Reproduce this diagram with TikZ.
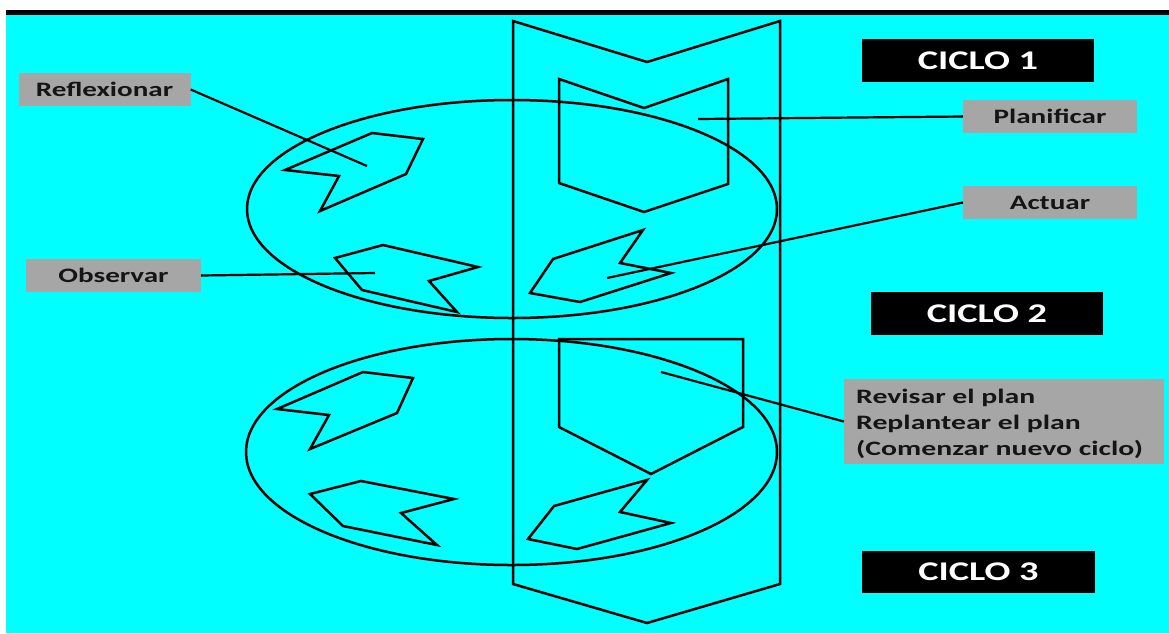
\documentclass[tikz,border=0pt]{standalone}
\usepackage{fontspec}
\setmainfont{Carlito}
\usepackage{graphicx}
\definecolor{cyanbg}{HTML}{00FFFF}
\definecolor{lgray}{HTML}{A6A6A6}
\definecolor{txtd}{HTML}{151515}
\newcommand{\strx}[1]{\scalebox{1.42}[1]{#1}}
\begin{document}
\begin{tikzpicture}[x=1pt,y=-1pt,
  shp/.style={line width=2.5pt, draw=black},
  conn/.style={line width=2.2pt, draw=black},
  lbl/.style={fill=lgray, inner sep=0pt, text=txtd, font=\bfseries\fontsize{20.5}{24}\selectfont},
  ciclo/.style={fill=black, text=white, inner sep=0pt, font=\bfseries\fontsize{27}{30}\selectfont}]
\useasboundingbox (0,0) rectangle (1169,633);
\fill[white] (0,0) rectangle (1169,633);
\fill[cyanbg] (6,15) rectangle (1169,633);
\fill[black] (6,10) rectangle (1169,15);

% big vertical arrow
\draw[shp] (513,21) -- (647,62) -- (780,21) -- (780,584) -- (647,623) -- (513,584) -- cycle;

% ellipses
\draw[shp] (512,209) ellipse [x radius=265, y radius=109];
\draw[shp] (511.5,452) ellipse [x radius=265.5, y radius=113];

% cycle 1 shapes
\draw[shp] (559,79) -- (644,108) -- (728,79) -- (728,184) -- (644,212) -- (559,183) -- cycle;
\draw[shp] (372,133) -- (423,139) -- (406,174) -- (320,211) -- (339,176) -- (285,170) -- cycle;
\draw[shp] (383,245) -- (478,267) -- (429,281) -- (457,312) -- (362,290) -- (335,258) -- cycle;
\draw[shp] (643,230) -- (620,263) -- (671,273) -- (580,302) -- (530,293) -- (553,259) -- cycle;

% cycle 2 shapes
\draw[shp] (559,339) -- (743,339) -- (743,427) -- (651,474) -- (559,427) -- cycle;
\draw[shp] (363,372) -- (413,378) -- (397,413) -- (310,449) -- (329,415) -- (277,409) -- cycle;
\draw[shp] (361,481) -- (454,499) -- (401,513) -- (437,545) -- (343,526) -- (310,494) -- cycle;
\draw[shp] (647,480) -- (620,512) -- (671,523) -- (577,549) -- (528,539) -- (554,506) -- cycle;

% labels
\node[lbl, minimum width=172pt, minimum height=33pt] (refl) at (104.5,89.5) {\strx{Reflexionar}};
\node[lbl, minimum width=175pt, minimum height=33pt] (obs) at (113.5,275.5) {\strx{Observar}};
\node[lbl, minimum width=174pt, minimum height=33pt] (plan) at (1050,116.5) {\strx{Planificar}};
\node[lbl, minimum width=174pt, minimum height=33pt] (act) at (1050,202.5) {\strx{Actuar}};
\node[lbl, minimum width=320pt, minimum height=85pt] (rev) at (1004,421.5) {};
\node[anchor=west, inner sep=0pt, text=txtd, font=\bfseries\fontsize{20.5}{26}\selectfont] (revtxt) at (856,424)
  {\scalebox{1.45}[1]{\begin{tabular}{@{}l@{}}Revisar el plan\\Replantear el plan\\(Comenzar nuevo ciclo)\end{tabular}}};

\node[ciclo, minimum width=232pt, minimum height=43pt] (c1) at (978,60.5) {\strx{CICLO 1}};
\node[ciclo, minimum width=232pt, minimum height=43pt] (c2) at (987,313.5) {\strx{CICLO 2}};
\node[ciclo, minimum width=233pt, minimum height=42pt] (c3) at (978.5,572) {\strx{CICLO 3}};

% connector ends
\coordinate (reflEnd) at (367,166);
\coordinate (obsEnd) at (375,273);
\coordinate (planEnd) at (698,119);
\coordinate (actEnd) at (607,278);
\coordinate (revEnd) at (661,372);

\draw[conn] (refl.east) -- (reflEnd);
\draw[conn] (obs.east) -- (obsEnd);
\draw[conn] (plan.west) -- (planEnd);
\draw[conn] (act.west) -- (actEnd);
\draw[conn] (rev.west) -- (revEnd);
\end{tikzpicture}
\end{document}
